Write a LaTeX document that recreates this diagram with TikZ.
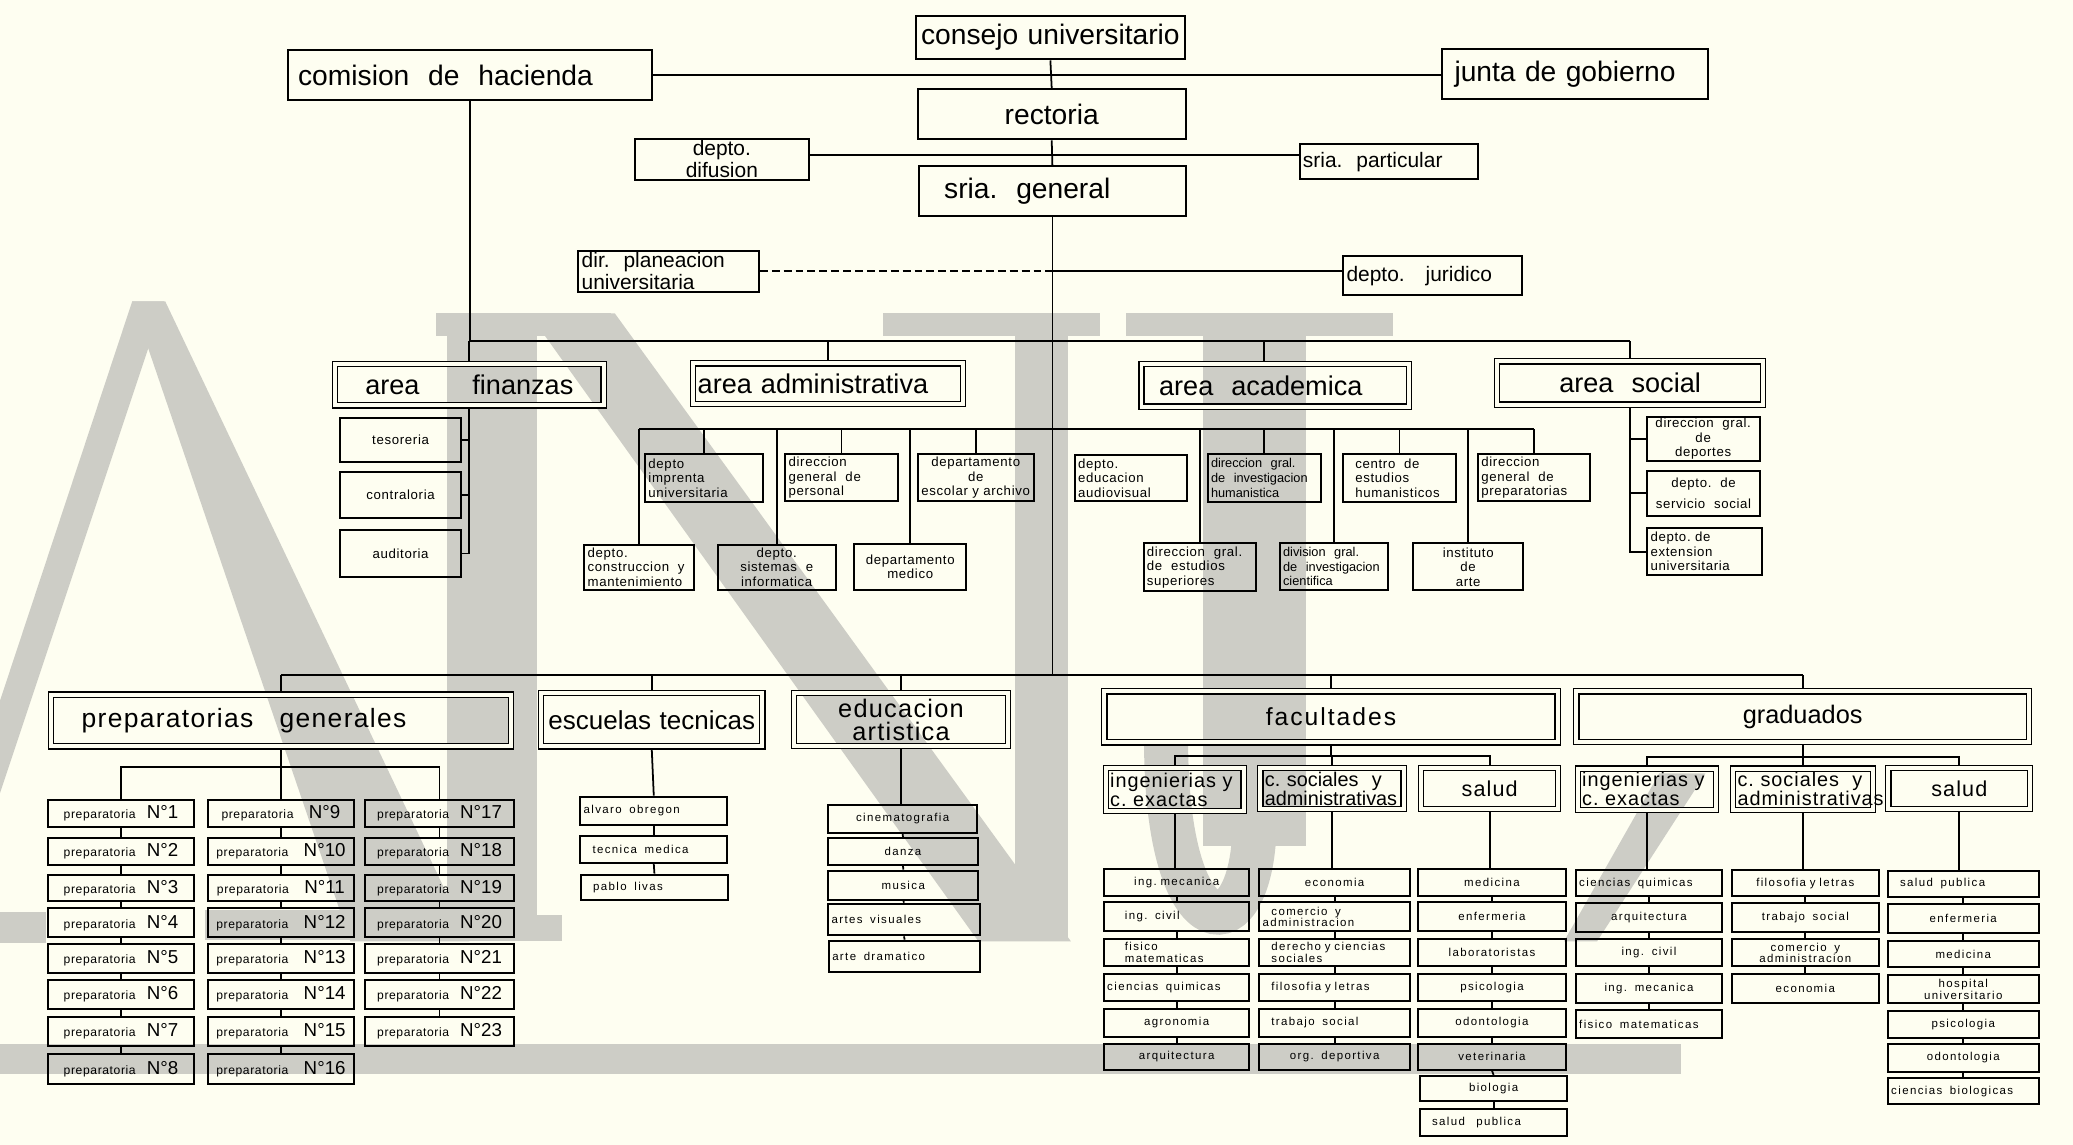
\documentclass[tikz,border=0pt]{standalone}
\usepackage{fontspec}
\setmainfont{Liberation Sans}
\newfontfamily\lsA[LetterSpace=5]{Liberation Sans}
\newfontfamily\lsB[LetterSpace=12]{Liberation Sans}
\newfontfamily\lsC[LetterSpace=8]{Liberation Sans}
\definecolor{bg}{RGB}{254,254,241}
\definecolor{wm}{RGB}{205,205,198}
\newcommand\fA{\fontsize{12.8}{13}\selectfont}
\newcommand\fB{\fontsize{9.5}{10}\selectfont}
\newcommand\fC{\fontsize{12.3}{13}\selectfont}
\newcommand\fD{\lsA\fontsize{6}{6.6}\selectfont}
\newcommand\fE{\fontsize{12}{10.5}\selectfont}
\newcommand\fF{\fontsize{9}{8.6}\selectfont}
\newcommand\fG{\lsB\fontsize{5.2}{5.3}\selectfont}
\newcommand\fN{\fontsize{8.5}{9}\selectfont}
\newcommand\prepa{{\lsA\fontsize{5.5}{6}\selectfont preparatoria}}
\newcommand\bxS[7]{%
 \pgfmathsetmacro\bw{(#4-#2)*0.6}%
 \pgfmathsetmacro\bh{(#5-#3)*0.6}%
 \pgfmathsetmacro\tw{\bw-3}%
 \node[bx,minimum width=\bw pt,minimum height=\bh pt,text width=\tw pt,#6] (#1) at ({(#2+#4)/2},{(#3+#5)/2}) {#7};}
\newcommand\bxD[7]{%
 \pgfmathsetmacro\bw{(#4-#2-4.8)*0.6}%
 \pgfmathsetmacro\bh{(#5-#3-4.8)*0.6}%
 \pgfmathsetmacro\tw{\bw-4}%
 \node[dbox,minimum width=\bw pt,minimum height=\bh pt,text width=\tw pt,#6] (#1) at ({(#2+#4)/2},{(#3+#5)/2}) {#7};}
\hyphenpenalty=10000
\exhyphenpenalty=10000
\begin{document}
\begin{tikzpicture}[x=0.6pt,y=-0.6pt,
  bx/.style={draw,line width=0.9pt,inner sep=0pt,align=center},
  dbox/.style={draw,line width=0.55pt,double=bg,double distance=1.8pt,inner sep=0pt,outer sep=1.45pt,align=center},
  ln/.style={line width=0.8pt},
  it/.style={font=\fG},
  sm/.style={font=\fD}]
\fill[bg] (0,0) rectangle (1568,866);
\useasboundingbox (0,0) rectangle (1568,866);
% ---------- watermark ----------
\fill[wm] (100,228) -- (124,228) -- (0,600) -- (0,530) -- cycle;
\fill[wm] (100,228) -- (125,228) -- (355,712) -- (265,712) -- cycle;
\fill[wm] (0,690) rectangle (35,713);
\fill[wm] (155,688) rectangle (392,711);
\fill[wm] (338,237) rectangle (406,712);
\fill[wm] (330,237) rectangle (462,254);
\fill[wm] (325,692) rectangle (425,712);
\fill[wm] (400,237) -- (465,237) -- (810,712) -- (740,712) -- cycle;
\fill[wm] (768,237) rectangle (808,712);
\fill[wm] (668,237) rectangle (832,254);
\fill[wm] (852,237) rectangle (1054,254);
\fill[wm] (910,237) rectangle (988,640);
\draw[wm,line width=20pt] (949,620) .. controls (949,722) and (882,722) .. (882,560);
\fill[wm] (1255,585) -- (1290,585) -- (1208,712) -- (1183,712) -- cycle;
\fill[wm] (0,789.5) rectangle (1271.5,812);
% ---------- top ----------
\bxS{consejo}{693}{12}{896}{45}{font=\fA}{consejo~universitario}
\bxS{comision}{218}{37.5}{493}{76}{font=\fA,align=left}{\hspace*{3pt}comision~~de~~hacienda}
\bxS{junta}{1091}{37}{1292}{75}{font=\fA,align=left}{\hspace*{4pt}junta~de~gobierno}
\bxS{rectoria}{694}{67.5}{897}{105.5}{font=\fA}{rectoria}
\bxS{difusion}{480}{105}{612}{136}{font=\fB}{depto.\\difusion}
\bxS{sriap}{983}{109}{1118}{135.5}{font=\fB,align=left}{sria.~~particular}
\bxS{sriag}{695}{125.5}{897}{163.5}{font=\fA,align=left}{\hspace*{10pt}sria.~~general}
\bxS{dirplan}{437.5}{189.5}{574}{221}{font=\fB,align=left}{dir.~~planeacion\\universitaria}
\bxS{juridico}{1016}{194}{1151.5}{223}{font=\fB,align=left}{depto.~~~juridico}
% ---------- areas ----------
\bxD{finanzas}{251}{273}{459}{309}{font=\fC}{area\hspace{24pt}finanzas}
\bxD{admin}{522}{272.5}{731}{308}{font=\fC,align=left}{area~administrativa}
\bxD{acad}{861}{273}{1068}{310}{font=\fC,align=left}{\hspace*{6pt}area~~academica}
\bxD{social}{1130}{271}{1336}{308.5}{font=\fC}{area~~social}
% finanzas children
\bxS{tes}{257}{316}{349}{349.5}{sm}{tesoreria}
\bxS{cont}{257}{357}{349}{392}{sm}{contraloria}
\bxS{aud}{257}{401}{349}{436.5}{sm}{auditoria}
% admin children
\bxS{impr}{488}{343.5}{577}{379.5}{sm,align=left}{depto\\imprenta\\universitaria}
\bxS{pers}{594}{343.5}{679}{379}{sm,align=left}{direccion\\general~~de\\personal}
\bxS{escol}{694}{343.5}{782}{379}{sm}{departamento\\de\\escolar~y~archivo}
\bxS{constr}{442}{412}{525}{446}{sm,align=left}{depto.\\construccion~~y\\mantenimiento}
\bxS{sist}{543}{412}{632}{446}{sm}{depto.\\sistemas~~e\\informatica}
\bxS{medico}{646}{411.5}{731}{446}{sm}{departamento\\medico}
% academica children
\bxS{audio}{813}{344}{898}{379}{sm,align=left}{depto.\\educacion\\audiovisual}
\bxS{invhum}{913.5}{343.5}{999}{379.5}{font=\fontsize{5.8}{6.6}\selectfont,align=left}{direccion~~gral.\\de~~investigacion\\humanistica}
\bxS{centro}{1016}{343.5}{1101}{379.5}{sm,align=left}{\hspace*{4pt}centro~~de\\\hspace*{4pt}estudios\\\hspace*{4pt}humanisticos}
\bxS{dirprep}{1118}{343.5}{1203}{379}{sm,align=left}{direccion\\general~~de\\preparatorias}
\bxS{estsup}{865}{411}{950}{447}{sm,align=left}{direccion~~gral.\\de~~estudios\\superiores}
\bxS{invcie}{968}{411}{1050}{446.5}{font=\fontsize{5.8}{6.6}\selectfont,align=left}{division~~gral.\\de~~investigacion\\cientifica}
\bxS{arte}{1069}{411}{1152}{446.5}{sm}{instituto\\de\\arte}
% social children
\bxS{deport}{1245.5}{315.5}{1331}{348.5}{sm}{direccion~~gral.\\de\\deportes}
\bxS{servsoc}{1246}{356}{1331}{390}{sm}{depto.~~de\\[3pt]servicio~~social}
\bxS{exten}{1246}{399.5}{1332.5}{435}{sm,align=left}{depto.~de\\extension\\universitaria}
% ---------- bottom headers ----------
\bxD{prepgen}{36}{523}{389}{567}{font=\lsA\fE,align=left}{\hspace*{12pt}preparatorias~~~generales}
\bxD{esctec}{407}{522}{579}{567}{font=\fontsize{11.8}{13}\selectfont}{escuelas~tecnicas}
\bxD{eduart}{598}{522}{765}{566.5}{font=\lsA\fontsize{11.5}{10.5}\selectfont}{educacion\\artistica}
\bxD{facu}{833}{520.5}{1180.5}{564}{font=\lsC\fontsize{11.2}{12}\selectfont}{facultades}
\bxD{grad}{1190}{520.5}{1537}{563.5}{font=\fontsize{11.5}{12}\selectfont}{graduados}
% preparatorias
\foreach \n/\ya/\yb in {1/605/625.5,2/633.5/654.5,3/661.5/681.5,4/687/709,5/714/736,6/741.5/763,7/769/791,8/797/820}
  {\bxS{p\n}{36}{\ya}{147}{\yb}{}{\prepa\hspace{5pt}{\fN N°\n}}}
\foreach \n/\ya/\yb in {9/605/625.5,10/633.5/654.5,11/661.5/681.5,12/687/709,13/714/736,14/741.5/763,15/769/791,16/797/820}
  {\bxS{p\n}{157}{\ya}{268}{\yb}{}{\prepa\hspace{7pt}{\fN N°\n}}}
\foreach \n/\ya/\yb in {17/605/625.5,18/633.5/654.5,19/661.5/681.5,20/687/709,21/714/736,22/741.5/763,23/769/791}
  {\bxS{p\n}{276}{\ya}{389}{\yb}{}{\prepa\hspace{5pt}{\fN N°\n}}}
% escuelas tecnicas
\bxS{alvaro}{439}{602.5}{550}{624}{it,align=left}{alvaro~~obregon}
\bxS{tecmed}{439}{632}{550}{652.5}{it,align=left}{\hspace*{4pt}tecnica~~medica}
\bxS{pablo}{439.5}{661.5}{550.5}{680.5}{it,align=left}{\hspace*{4pt}pablo~~livas}
% educacion artistica
\bxS{cine}{626.5}{609}{739}{630}{it}{cinematografia}
\bxS{danza}{626.5}{634}{739.5}{654}{it}{danza}
\bxS{musica}{626.5}{658.5}{740}{680.5}{it}{musica}
\bxS{artvis}{626.5}{683.5}{741}{707.5}{it,align=left}{artes~~visuales}
\bxS{artdram}{627}{711.5}{741.5}{735}{it,align=left}{arte~~dramatico}
% facultades
\bxD{fing}{834}{578.5}{943}{616}{font=\lsA\fF,align=left}{ingenierias~y\\c.~exactas}
\bxD{fsoc}{951}{578.5}{1064}{614.5}{font=\fF,align=left}{c.~sociales~~y\\administrativas}
\bxD{fsal}{1072.5}{578.5}{1181}{614.5}{font=\lsA\fontsize{9.8}{10}\selectfont}{salud}
\bxS{fa1}{835}{657.5}{945}{677.5}{it}{ing.~mecanica}
\bxS{fa2}{835}{682.5}{945}{704.5}{it,align=left}{\hspace*{8pt}ing.~~civil}
\bxS{fa3}{835}{710.5}{945}{730.5}{it,align=left}{\hspace*{8pt}fisico\\\hspace*{8pt}matematicas}
\bxS{fa4}{835}{737}{945}{757.5}{it,align=left}{ciencias~~quimicas}
\bxS{fa5}{835}{763.5}{945}{784}{it}{agronomia}
\bxS{fa6}{835}{789.5}{945}{809}{it}{arquitectura}
\bxS{fb1}{952.5}{657.5}{1066.5}{677.5}{it}{economia}
\bxS{fb2}{952.5}{682.5}{1066.5}{704.5}{it,align=left}{\hspace*{4pt}comercio~~y\\administracion}
\bxS{fb3}{952.5}{710.5}{1066.5}{730.5}{it,align=left}{\hspace*{4pt}derecho~y~ciencias\\\hspace*{4pt}sociales}
\bxS{fb4}{952.5}{737}{1066.5}{757.5}{it,align=left}{\hspace*{4pt}filosofia~y~letras}
\bxS{fb5}{952.5}{763.5}{1066.5}{784}{it,align=left}{\hspace*{4pt}trabajo~~social}
\bxS{fb6}{952.5}{789.5}{1066.5}{809}{it}{org.~~deportiva}
\bxS{fc1}{1072.5}{657.5}{1184.5}{677.5}{it}{medicina}
\bxS{fc2}{1072.5}{682.5}{1184.5}{704.5}{it}{enfermeria}
\bxS{fc3}{1072.5}{710.5}{1184.5}{730.5}{it}{laboratoristas}
\bxS{fc4}{1072.5}{737}{1184.5}{757.5}{it}{psicologia}
\bxS{fc5}{1072.5}{763.5}{1184.5}{784}{it}{odontologia}
\bxS{fc6}{1072.5}{789.5}{1184.5}{809}{it}{veterinaria}
\bxS{fc7}{1074}{814}{1185.5}{832.5}{it}{biologia}
\bxS{fc8}{1074}{839}{1185.5}{859.5}{it,align=left}{\hspace*{4pt}salud~~~publica}
% graduados
\bxD{ging}{1191}{579}{1300.5}{615}{font=\lsA\fF,align=left}{ingenierias~y\\c.~exactas}
\bxD{gsoc}{1308.5}{579}{1419}{615}{font=\lsA\fF,align=left}{c.~sociales~~y\\administrativas}
\bxD{gsal}{1426}{578.5}{1538}{614.5}{font=\lsA\fontsize{9.8}{10}\selectfont}{salud}
\bxS{ga1}{1192}{658}{1302.5}{678}{it,align=left}{ciencias~~quimicas}
\bxS{ga2}{1192}{683}{1302.5}{705}{it}{arquitectura}
\bxS{ga3}{1192}{710.5}{1302.5}{731}{it}{ing.~~civil}
\bxS{ga4}{1192}{737}{1302.5}{758.5}{it}{ing.~~mecanica}
\bxS{ga5}{1192}{764}{1302.5}{785}{it,align=left}{fisico~~matematicas}
\bxS{gb1}{1310}{658}{1421}{678}{it}{filosofia~y~letras}
\bxS{gb2}{1310}{683}{1421}{705}{it}{trabajo~~social}
\bxS{gb3}{1310}{710.5}{1421}{731}{it}{comercio~~y\\administracion}
\bxS{gb4}{1310}{737}{1421}{758.5}{it}{economia}
\bxS{gc1}{1428}{658.5}{1542}{678.5}{it,align=left}{\hspace*{4pt}salud~~publica}
\bxS{gc2}{1428}{684}{1542}{706}{it}{enfermeria}
\bxS{gc3}{1428}{712}{1542}{731.5}{it}{medicina}
\bxS{gc4}{1428}{737.5}{1542}{759}{it}{hospital\\universitario}
\bxS{gc5}{1428}{765}{1542}{785}{it}{psicologia}
\bxS{gc6}{1428}{789.5}{1542}{810.5}{it}{odontologia}
\bxS{gc7}{1428}{815.5}{1542}{835}{it,align=left}{ciencias~~biologicas}
% ---------- connectors ----------
\coordinate (hl1) at (795.5,117.5);
\coordinate (hl2) at (795.5,205);
\coordinate (bus1) at (795.5,258);
\coordinate (bus2) at (795.5,324.4);
\coordinate (bus3) at (795.5,510.5);
\coordinate (pb) at (212.5,580);
\coordinate (fb) at (1006.75,571.8);
\coordinate (gb) at (1363.5,572.8);
\draw[ln] (consejo.south) -- (rectoria.north);
\draw[ln] (comision.east) -- (comision.east -| junta.west);
\draw[ln] (rectoria.south) -- (sriag.north);
\draw[ln] (difusion.east |- hl1) -- (sriap.west |- hl1);
\draw[ln] (sriag.south) -- (sriag.south |- bus3);
\draw[ln,dash pattern=on 3.6pt off 1.8pt] (dirplan.east |- hl2) -- (sriag.south |- hl2);
\draw[ln] (sriag.south |- hl2) -- (juridico.west |- hl2);
\draw[ln] (comision.south) -- (comision.south |- bus1) -- (social.north |- bus1);
\draw[ln] (finanzas.north) -- (finanzas.north |- bus1);
\draw[ln] (admin.north) -- (admin.north |- bus1);
\draw[ln] (invhum.north |- acad.north) -- (invhum.north |- bus1);
\draw[ln] (social.north) -- (social.north |- bus1);
% finanzas
\draw[ln] (finanzas.south) |- (aud.east);
\draw[ln] (tes.east) -- (tes.east -| finanzas.south);
\draw[ln] (cont.east) -- (cont.east -| finanzas.south);
% admin + academica bus
\draw[ln] (constr.north |- bus2) -- (dirprep.north |- bus2);
\foreach \n in {impr,pers,escol,constr,sist,medico,invhum,centro,dirprep,estsup,invcie,arte}
  \draw[ln] (\n.north) -- (\n.north |- bus2);
% social
\draw[ln] (social.south) |- (exten.west);
\draw[ln] (deport.west) -- (deport.west -| social.south);
\draw[ln] (servsoc.west) -- (servsoc.west -| social.south);
% bottom bus
\draw[ln] (prepgen.north |- bus3) -- (grad.north |- bus3);
\foreach \n in {prepgen,esctec,eduart,facu,grad}
  \draw[ln] (\n.north) -- (\n.north |- bus3);
% preparatorias
\draw[ln] (prepgen.south) -- (pb);
\draw[ln] (p1.north) |- (pb) -| (p17.north);
\draw[ln] (pb) -- (p9.north);
\foreach \a/\b in {1/2,2/3,3/4,4/5,5/6,6/7,7/8,9/10,10/11,11/12,12/13,13/14,14/15,15/16,17/18,18/19,19/20,20/21,21/22,22/23}
  \draw[ln] (p\a.south) -- (p\b.north);
% escuelas / educacion
\draw[ln] (esctec.south) -- (alvaro.north);
\draw[ln] (alvaro.south) -- (tecmed.north);
\draw[ln] (tecmed.south) -- (pablo.north);
\draw[ln] (eduart.south) -- (eduart.south |- cine.north);
\foreach \a/\b in {cine/danza,danza/musica,musica/artvis,artvis/artdram}
  \draw[ln] (\a.south) -- (\b.north);
% facultades
\draw[ln] (facu.south) -- (fb);
\draw[ln] (fing.north) |- (fb) -| (fsal.north);
\draw[ln] (fb) -- (fsoc.north |- fb) -- (fsoc.north);
\draw[ln] (fing.south) -- (fing.south |- fa1.north);
\draw[ln] (fsoc.south) -- (fsoc.south |- fb1.north);
\draw[ln] (fsal.south) -- (fsal.south |- fc1.north);
\foreach \a/\b in {fa1/fa2,fa2/fa3,fa3/fa4,fa4/fa5,fa5/fa6,fb1/fb2,fb2/fb3,fb3/fb4,fb4/fb5,fb5/fb6,fc1/fc2,fc2/fc3,fc3/fc4,fc4/fc5,fc5/fc6,fc6/fc7,fc7/fc8}
  \draw[ln] (\a.south) -- (\b.north);
% graduados
\draw[ln] (grad.south) -- (gb);
\draw[ln] (ging.north) |- (gb) -| (gsal.north);
\draw[ln] (gb) -- (gsoc.north |- gb) -- (gsoc.north);
\draw[ln] (ging.south) -- (ging.south |- ga1.north);
\draw[ln] (gsoc.south) -- (gsoc.south |- gb1.north);
\draw[ln] (gsal.south) -- (gsal.south |- gc1.north);
\foreach \a/\b in {ga1/ga2,ga2/ga3,ga3/ga4,ga4/ga5,gb1/gb2,gb2/gb3,gb3/gb4,gc1/gc2,gc2/gc3,gc3/gc4,gc4/gc5,gc5/gc6,gc6/gc7}
  \draw[ln] (\a.south) -- (\b.north);
\end{tikzpicture}
\end{document}
